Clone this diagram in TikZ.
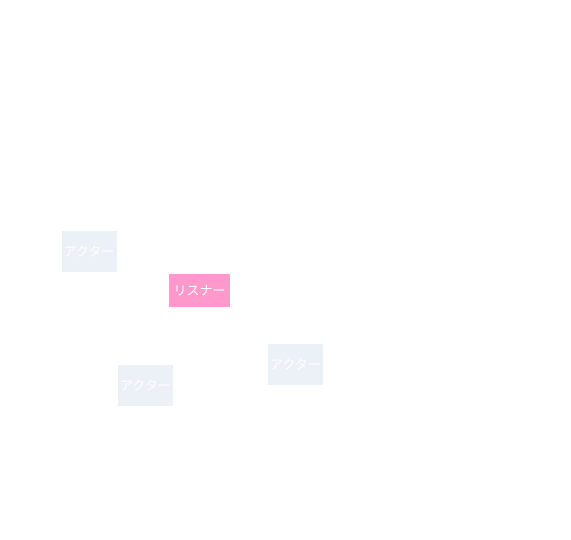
\documentclass[tikz,border=0pt]{standalone}
\usepackage{fontspec}
\newfontfamily\jpfont{Noto Sans CJK JP}
\usepackage{tikz}
\usetikzlibrary{positioning}
\definecolor{actorfill}{HTML}{ECF0F7}
\definecolor{listenerfill}{HTML}{FF99CC}
\tikzset{
  actorbox/.style={fill=actorfill, text=white, font=\jpfont\fontsize{13}{15}\selectfont,
    minimum width=55pt, minimum height=41pt, inner sep=0pt},
  listenerbox/.style={fill=listenerfill, text=white, font=\jpfont\fontsize{13}{15}\selectfont,
    minimum width=61pt, minimum height=33pt, inner sep=0pt}
}

\begin{document}
\begin{tikzpicture}[x=1pt, y=1pt]
% canvas
\useasboundingbox (0,0) rectangle (571,-539);

% actors
\foreach \x/\y/\name in {89/251/actorA, 145.5/385.5/actorB, 295.5/364.5/actorC}
\node[actorbox] (\name) at (\x,-\y) {アクター};

% listener
\node[listenerbox] (listener) at (199.5,-290.5) {リスナー};
\end{tikzpicture}
\end{document}
